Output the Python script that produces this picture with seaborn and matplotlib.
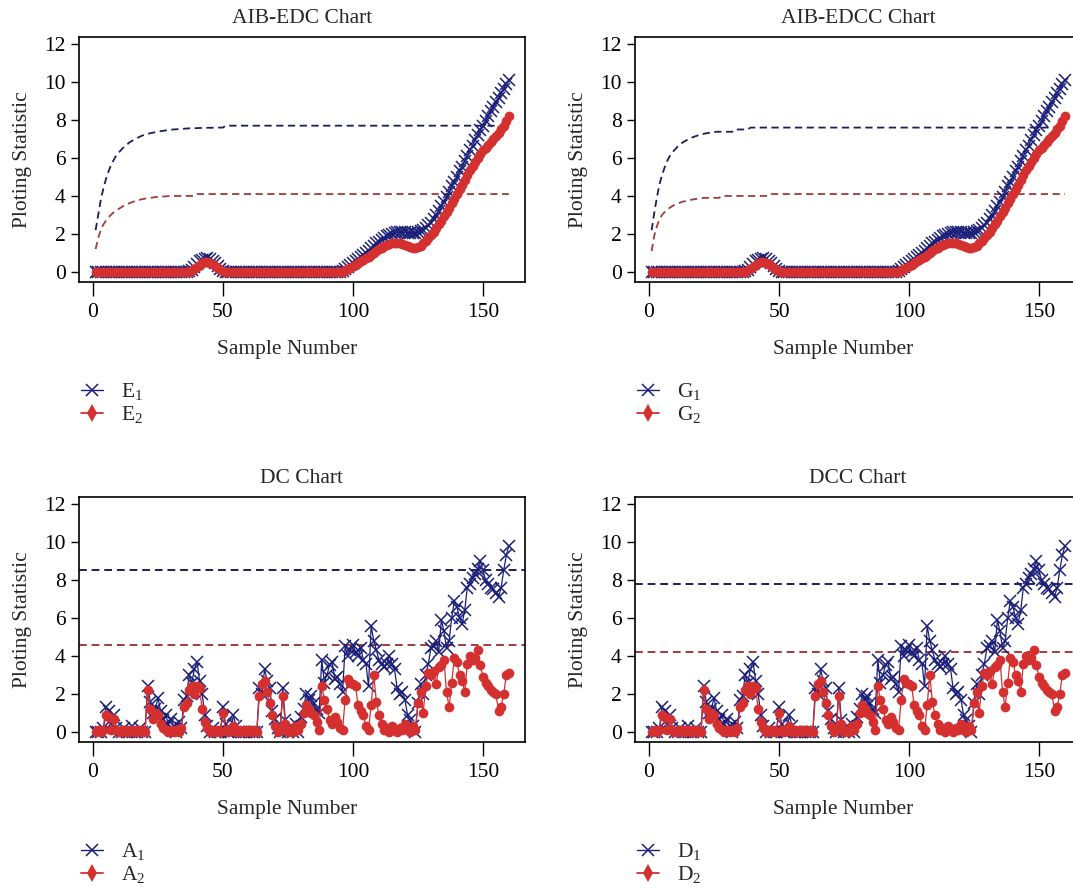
import matplotlib
matplotlib.use("Agg")
import matplotlib.pyplot as plt
from matplotlib.lines import Line2D
import seaborn as sns

sns.set_style("ticks")
plt.rcParams["font.family"] = ["Liberation Serif", "DejaVu Serif"]
plt.rcParams["mathtext.fontset"] = "custom"
plt.rcParams["mathtext.rm"] = "Liberation Serif"
plt.rcParams["mathtext.it"] = "Liberation Serif:italic"

samples = list(range(1, 161))
x_ticks = [0, 50, 100, 150]
y_ticks = [0, 2, 4, 6, 8, 10, 12]

# AIB-EDC / AIB-EDCC statistics (both panels show the same paths)
e1 = ([0.0] * 36 +
      [0.05, 0.12, 0.25, 0.4, 0.55, 0.65, 0.7, 0.72, 0.7, 0.6, 0.45, 0.3, 0.15, 0.05, 0.0, 0.0] +
      [0.0] * 43 +
      [0.05, 0.15, 0.25, 0.35, 0.45, 0.6, 0.7, 0.8, 0.9, 1.0,
       1.1, 1.25, 1.35, 1.5, 1.6, 1.7, 1.8, 1.9, 1.95, 2.0,
       2.05, 2.1, 2.1, 2.1, 2.1, 2.05, 2.05, 2.05, 2.05, 2.1,
       2.15, 2.2, 2.3, 2.45, 2.6, 2.8, 3.0, 3.2, 3.45, 3.7,
       3.95, 4.2, 4.5, 4.75, 5.0, 5.3, 5.55, 5.85, 6.1, 6.4,
       6.65, 6.95, 7.2, 7.45, 7.7, 7.95, 8.2, 8.45, 8.7, 8.95,
       9.15, 9.4, 9.65, 9.9, 10.1])
e2 = ([0.0] * 36 +
      [0.02, 0.08, 0.18, 0.28, 0.38, 0.45, 0.5, 0.5, 0.48, 0.4, 0.3, 0.2, 0.1, 0.04, 0.0, 0.0] +
      [0.0] * 43 +
      [0.02, 0.08, 0.15, 0.22, 0.3, 0.38, 0.46, 0.55, 0.63, 0.72,
       0.8, 0.9, 1.0, 1.1, 1.2, 1.28, 1.35, 1.42, 1.47, 1.5,
       1.52, 1.52, 1.5, 1.47, 1.42, 1.37, 1.32, 1.28, 1.27, 1.3,
       1.38, 1.5, 1.63, 1.78, 1.95, 2.12, 2.3, 2.5, 2.7, 2.92,
       3.15, 3.38, 3.62, 3.86, 4.1, 4.35, 4.6, 4.85, 5.1, 5.35,
       5.6, 5.8, 6.0, 6.2, 6.4, 6.55, 6.7, 6.85, 7.0, 7.15,
       7.3, 7.5, 7.7, 7.95, 8.2])

# time-varying control limits
lim_e1 = ([2.2, 3.0, 3.8, 4.4, 4.9, 5.3, 5.65, 5.9, 6.15, 6.3,
           6.45, 6.6, 6.7, 6.82, 6.9, 6.98, 7.05, 7.12, 7.18, 7.23,
           7.27, 7.3, 7.33, 7.36, 7.39, 7.41, 7.43, 7.45, 7.47, 7.49,
           7.5, 7.51, 7.52, 7.53, 7.54, 7.55, 7.56, 7.56, 7.57, 7.57,
           7.58, 7.58, 7.58, 7.59, 7.59, 7.59, 7.6, 7.6, 7.6, 7.6] + [7.7] * 110)
lim_e2 = ([1.2, 1.8, 2.2, 2.5, 2.7, 2.88, 3.02, 3.14, 3.24, 3.33,
           3.41, 3.5, 3.56, 3.62, 3.67, 3.72, 3.76, 3.8, 3.83, 3.86,
           3.88, 3.9, 3.92, 3.94, 3.95, 3.96, 3.97, 3.98, 3.99] + [4.0] * 10 + [4.1] * 121)
lim_g1 = ([2.2, 3.1, 3.9, 4.6, 5.1, 5.5, 5.85, 6.1, 6.3, 6.45,
           6.6, 6.72, 6.82, 6.9, 6.98, 7.05, 7.1, 7.15, 7.2, 7.24,
           7.27, 7.3, 7.32, 7.34, 7.36, 7.38] + [7.38] * 6 + [7.5] * 6 + [7.6] * 122)
lim_g2 = ([1.1, 1.9, 2.4, 2.75, 3.0, 3.15, 3.28, 3.38, 3.47, 3.55,
           3.6, 3.65, 3.7, 3.73, 3.76, 3.79, 3.82, 3.84, 3.86, 3.88] + [3.9] * 7 +
          [4.0] * 19 + [4.1] * 114)

# DC / DCC statistics (both panels show the same paths)
a1 = [0.0, 0.0, 0.0, 0.2, 1.3, 1.1, 0.4, 0.9, 0.2, 0.0,
      0.0, 0.2, 0.0, 0.0, 0.3, 0.0, 0.0, 0.2, 0.0, 0.0,
      2.4, 1.6, 1.0, 1.2, 1.8, 1.1, 0.6, 0.9, 0.4, 0.7,
      0.3, 0.0, 0.5, 0.2, 1.7, 1.9, 3.0, 2.6, 3.3, 3.7,
      2.7, 2.0, 0.9, 0.3, 0.0, 0.2, 0.0, 0.0, 0.0, 1.3,
      0.4, 0.0, 0.0, 0.9, 0.3, 0.0, 0.0, 0.0, 0.0, 0.0,
      0.0, 0.0, 0.0, 2.3, 2.0, 3.3, 2.7, 2.3, 1.1, 0.7,
      0.2, 0.0, 2.3, 0.6, 0.0, 0.3, 0.0, 0.4, 0.0, 0.8,
      1.2, 2.0, 1.7, 1.9, 1.5, 1.2, 1.0, 3.8, 2.6, 3.0,
      3.5, 3.7, 2.8, 2.9, 2.5, 2.1, 4.5, 4.0, 4.3, 4.6,
      4.2, 4.0, 4.4, 3.8, 3.6, 2.4, 5.6, 4.8, 4.3, 3.8,
      3.6, 3.4, 3.6, 4.0, 3.6, 3.3, 2.3, 2.0, 2.1, 1.7,
      0.9, 0.6, 0.3, 0.0, 1.5, 2.5, 2.0, 3.0, 3.6, 4.4,
      4.5, 4.8, 4.2, 5.9, 5.3, 4.4, 4.8, 6.0, 6.9, 6.6,
      6.0, 5.7, 6.4, 7.6, 7.8, 8.1, 8.3, 8.6, 9.0, 8.5,
      8.0, 7.8, 7.6, 7.5, 7.3, 7.1, 7.6, 8.5, 9.3, 9.8]
a2 = [0.0, 0.1, 0.0, 0.1, 0.9, 0.8, 0.1, 0.7, 0.1, 0.0,
      0.1, 0.0, 0.1, 0.0, 0.1, 0.0, 0.1, 0.0, 0.1, 0.0,
      2.2, 1.2, 0.7, 1.0, 0.9, 0.4, 0.2, 0.1, 0.0, 0.1,
      0.0, 0.1, 0.0, 0.2, 1.3, 1.5, 2.2, 2.4, 2.0, 2.4,
      2.3, 1.2, 0.5, 0.2, 0.0, 0.1, 0.0, 0.1, 0.0, 1.0,
      0.1, 0.0, 0.1, 0.3, 0.0, 0.1, 0.0, 0.1, 0.0, 0.1,
      0.0, 0.1, 0.0, 1.9, 2.5, 2.7, 2.1, 1.5, 0.9, 0.3,
      0.0, 0.1, 1.9, 0.4, 0.0, 0.1, 0.0, 0.3, 0.1, 0.4,
      1.0, 1.4, 1.2, 1.0, 0.9, 0.5, 0.1, 2.4, 1.7, 1.2,
      0.6, 0.4, 0.8, 0.5, 0.2, 0.1, 1.7, 2.8, 2.6, 2.5,
      2.4, 1.4, 1.1, 0.9, 0.3, 0.1, 1.4, 3.0, 1.6, 0.9,
      0.4, 0.1, 0.2, 0.0, 0.3, 0.1, 0.0, 0.2, 0.1, 0.4,
      0.1, 0.0, 0.3, 0.1, 1.5, 2.1, 1.0, 2.4, 3.1, 3.0,
      3.2, 2.5, 3.4, 3.5, 3.8, 2.1, 1.3, 2.6, 3.9, 3.7,
      3.0, 2.7, 2.1, 3.6, 4.0, 3.8, 3.9, 4.3, 3.5, 2.9,
      2.6, 2.4, 2.2, 2.1, 2.0, 1.1, 1.3, 2.0, 3.0, 3.1]
dc_limits = [8.55, 4.55]
dcc_limits = [7.8, 4.2]

titles = ["AIB-EDC Chart", "AIB-EDCC Chart", "DC Chart", "DCC Chart"]
labels = [["E$_1$", "E$_2$"], ["G$_1$", "G$_2$"], ["A$_1$", "A$_2$"], ["D$_1$", "D$_2$"]]

blue = "#1c1f7a"
red = "#d3302f"
blue_lim = "#1b1d5e"
red_lim = "#a23b3b"
fs = 15.5

fig = plt.figure(figsize=(10.73, 8.89), dpi=100)
rects = [[0.0736, 0.6828, 0.4157, 0.2756], [0.5918, 0.6828, 0.4157, 0.2756],
         [0.0736, 0.1654, 0.4157, 0.2756], [0.5918, 0.1654, 0.4157, 0.2756]]
axes = [fig.add_axes(r) for r in rects]

panels = [(e1, e2, lim_e1, lim_e2), (e1, e2, lim_g1, lim_g2),
          (a1, a2, dc_limits[0], dc_limits[1]), (a1, a2, dcc_limits[0], dcc_limits[1])]

for i, ax in enumerate(axes):
    s1, s2, l1, l2 = panels[i]
    if isinstance(l1, list):
        sns.lineplot(x=samples, y=l1, ax=ax, color=blue_lim, linewidth=1.3,
                     linestyle=(0, (4, 2.5)), estimator=None)
        sns.lineplot(x=samples, y=l2, ax=ax, color=red_lim, linewidth=1.3,
                     linestyle=(0, (4, 2.5)), estimator=None)
    else:
        ax.axhline(l1, color=blue_lim, linewidth=1.4, linestyle=(0, (4, 2.5)))
        ax.axhline(l2, color=red_lim, linewidth=1.4, linestyle=(0, (4, 2.5)))
    sns.lineplot(x=samples, y=s1, ax=ax, color=blue, linewidth=0.9, marker="x",
                 markersize=8, markeredgewidth=1.1, markeredgecolor=blue, estimator=None)
    sns.lineplot(x=samples, y=s2, ax=ax, color=red, linewidth=0.9, marker="o",
                 markersize=7, markeredgewidth=0, markerfacecolor=red, estimator=None)

    ax.set_xlim(-5.4, 166.2)
    ax.set_ylim(-0.53, 12.37)
    ax.set_xticks(x_ticks)
    ax.set_yticks(y_ticks)
    ax.tick_params(axis="x", length=10, width=1, pad=5, labelsize=fs, colors="black")
    ax.tick_params(axis="y", length=5.5, width=1, pad=4, labelsize=fs, colors="black")
    for sp in ax.spines.values():
        sp.set_visible(True)
        sp.set_color("black")
        sp.set_linewidth(1.2)
    ax.set_title(titles[i], fontsize=fs, pad=10)
    ax.set_xlabel("Sample Number", fontsize=fs)
    ax.set_ylabel("Ploting Statistic", fontsize=fs)
    ax.xaxis.set_label_coords(0.466, -0.235)
    ax.yaxis.set_label_coords(-0.105, 0.5)

    handles = [Line2D([], [], color=blue, linewidth=1, marker="x", markersize=8,
                      markeredgewidth=1.1),
               Line2D([], [], color=red, linewidth=1.3, marker="d", markersize=9,
                      markeredgewidth=0)]
    ax.legend(handles, labels[i], loc="upper left", bbox_to_anchor=(0.005, -0.405),
              frameon=False, fontsize=fs, handlelength=1.0, handletextpad=0.85,
              labelspacing=0.1, borderpad=0, borderaxespad=0)

fig.savefig("out.png", dpi=100)
